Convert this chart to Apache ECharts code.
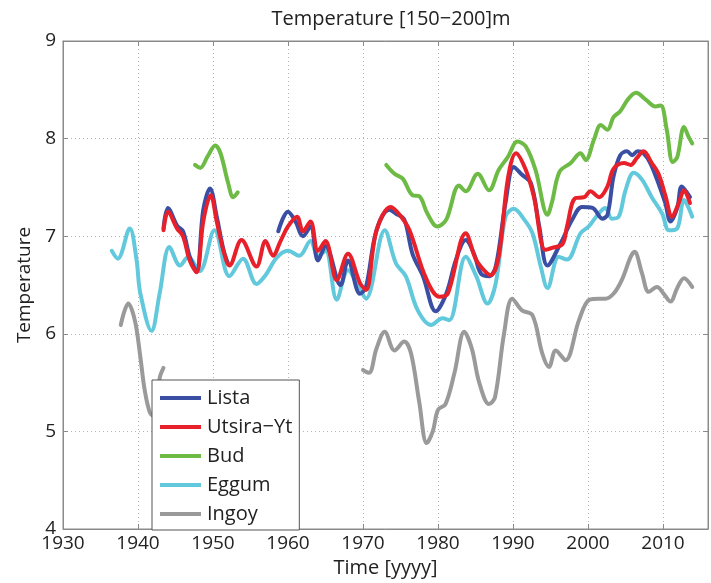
<!DOCTYPE html>
<html>
<head>
<meta charset="utf-8">
<script src="https://cdn.jsdelivr.net/npm/echarts@6/dist/echarts.min.js"></script>
<style>html,body{margin:0;padding:0;background:#fff}#c{width:711px;height:583px}</style>
</head>
<body>
<div id="c"></div>
<script>
// ---- data ----
const listaYears = [1943.4,1944.0,1945.2,1946.0,1946.9,1947.8,1948.7,1949.6,1950.5,1951.4,1952.0,null,1958.7,1960.0,1961.0,1962.0,1963.0,1964.0,1965.0,1967.0,1968.0,1969.6,1970.4,1971.8,1973.5,1974.4,1975.5,1976.6,1978.0,1979.7,1981.1,1982.4,1983.7,1984.8,1985.7,1986.8,1987.7,1989.0,1990.1,1991.2,1992.4,1993.5,1994.6,1996.3,1997.9,1999.2,2000.6,2001.9,2002.6,2003.4,2004.3,2005.2,2005.9,2006.6,2007.4,2008.3,2009.4,2010.3,2011.0,2011.9,2012.5,2013.6];
const listaVals  = [7.08,7.29,7.11,7.05,6.79,6.64,7.27,7.49,7.20,6.86,6.72,null,7.05,7.25,7.15,7.00,7.10,6.75,6.90,6.50,6.75,6.41,6.48,7.06,7.27,7.23,7.17,6.82,6.59,6.23,6.41,6.76,6.96,6.82,6.62,6.59,6.69,7.34,7.71,7.63,7.54,7.10,6.70,6.92,7.17,7.30,7.29,7.18,7.22,7.61,7.83,7.87,7.83,7.87,7.85,7.75,7.54,7.34,7.15,7.29,7.51,7.40];

const utsiraYears = [1943.4,1944.0,1945.2,1946.0,1946.9,1947.8,1948.7,1949.7,1950.5,1951.4,1952.2,1953.8,1955.8,1957.0,1958.0,1959.0,1960.0,1961.2,1962.0,1963.0,1964.0,1965.0,1966.5,1968.0,1969.6,1970.4,1971.8,1973.7,1975.0,1976.2,1978.4,1980.2,1981.3,1983.7,1985.0,1985.9,1987.0,1988.1,1989.3,1990.4,1991.7,1992.8,1994.3,1995.2,1996.6,1997.2,1998.3,1999.5,2000.3,2001.5,2002.6,2003.4,2004.8,2005.7,2006.5,2007.4,2008.5,2009.4,2010.3,2011.2,2012.1,2012.8,2013.6];
const utsiraVals  = [7.06,7.25,7.08,7.00,6.75,6.63,7.15,7.42,7.15,6.85,6.70,6.96,6.69,6.95,6.80,6.95,7.10,7.20,7.05,7.15,6.85,6.95,6.55,6.82,6.52,6.45,7.06,7.30,7.21,7.06,6.57,6.38,6.41,7.03,6.77,6.67,6.60,6.79,7.58,7.85,7.68,7.40,6.86,6.88,6.92,7.10,7.39,7.40,7.46,7.40,7.51,7.69,7.75,7.73,7.80,7.87,7.75,7.64,7.42,7.20,7.34,7.47,7.34];

const budYears = [1947.6,1948.3,1949.3,1950.3,1951.0,1952.0,1952.7,1953.3,null,1973.1,1974.2,1975.3,1976.6,1977.5,1978.6,1979.9,1981.1,1982.8,1983.7,1985.3,1986.8,1988.1,1989.3,1990.6,1991.7,1993.0,1994.6,1995.2,1996.2,1997.7,1999.0,1999.7,2000.8,2001.7,2002.6,2003.4,2004.3,2005.4,2006.4,2007.7,2009.0,2009.7,2010.5,2011.3,2011.9,2012.8,2013.4,2013.9];
const budVals  = [7.73,7.70,7.82,7.93,7.85,7.55,7.40,7.45,null,7.73,7.64,7.59,7.42,7.41,7.23,7.10,7.17,7.52,7.46,7.64,7.47,7.68,7.81,7.97,7.92,7.68,7.22,7.35,7.66,7.75,7.85,7.78,7.99,8.14,8.09,8.22,8.28,8.41,8.47,8.40,8.33,8.34,8.09,7.76,7.81,8.12,8.02,7.95];

const eggumYears = [1936.5,1937.3,1938.9,1939.8,1940.3,1941.8,1942.9,1944.2,1945.6,1946.7,1948.2,1950.2,1952.2,1954.0,1955.8,1957.0,1958.5,1960.0,1961.5,1963.0,1964.0,1965.0,1966.5,1968.0,1969.6,1970.4,1972.9,1974.4,1975.7,1977.3,1979.1,1980.6,1981.5,1983.7,1985.1,1986.6,1987.7,1989.0,1990.1,1991.5,1992.6,1993.7,1994.6,1996.1,1997.2,1999.0,2000.1,2001.4,2002.3,2003.2,2004.1,2005.0,2006.1,2007.2,2008.5,2009.9,2010.8,2011.9,2012.8,2013.9];
const eggumVals  = [6.85,6.77,7.08,6.76,6.42,6.03,6.42,6.89,6.70,6.79,6.64,7.06,6.59,6.77,6.51,6.60,6.78,6.85,6.80,6.95,6.80,6.85,6.35,6.65,6.45,6.36,7.06,6.72,6.59,6.24,6.09,6.16,6.14,6.79,6.59,6.31,6.52,7.20,7.28,7.17,7.03,6.69,6.47,6.79,6.76,7.03,7.10,7.23,7.29,7.18,7.20,7.47,7.65,7.58,7.40,7.23,7.06,7.08,7.37,7.20];

const ingoyYears = [1937.7,1938.7,1939.6,1940.3,1940.9,1941.6,1942.2,1942.9,1943.4,null,1970.0,1970.8,1971.8,1972.9,1974.2,1975.5,1976.4,1977.5,1978.5,1979.3,1980.0,1981.0,1982.2,1983.5,1984.5,1985.5,1986.8,1987.6,1988.8,1989.9,1991.2,1992.6,1993.9,1994.8,1995.7,1997.0,1998.8,2000.2,2001.5,2002.3,2003.4,2004.5,2005.7,2006.2,2007.2,2008.1,2009.2,2010.1,2011.0,2011.9,2012.8,2013.9];
const ingoyVals  = [6.09,6.31,6.13,5.77,5.42,5.19,5.15,5.55,5.65,null,5.63,5.60,5.85,6.02,5.83,5.92,5.80,5.30,4.88,5.00,5.22,5.28,5.60,6.02,5.85,5.50,5.28,5.35,6.00,6.36,6.24,6.19,5.80,5.66,5.83,5.73,6.14,6.35,6.36,6.36,6.41,6.55,6.79,6.84,6.62,6.43,6.48,6.41,6.33,6.47,6.57,6.48];

const seriesNames = ['Lista','Utsira\u2212Yt','Bud','Eggum','Ingoy'];
const seriesColors = ['#3a4fa3','#e8202a','#6dbb45','#62c9dc','#9a9a9a'];
const xTicks = [1930,1940,1950,1960,1970,1980,1990,2000,2010];
const yTicks = [4,5,6,7,8,9];

function pairs(xs, ys){
  return xs.map((x,i)=> x===null ? [null,null] : [x, ys[i]]);
}
const seriesData = {
  'Lista': pairs(listaYears, listaVals),
  'Utsira\u2212Yt': pairs(utsiraYears, utsiraVals),
  'Bud': pairs(budYears, budVals),
  'Eggum': pairs(eggumYears, eggumVals),
  'Ingoy': pairs(ingoyYears, ingoyVals)
};

const FONT = 'Open Sans';
const chart = echarts.init(document.getElementById('c'), null, {renderer:'canvas'});
const gridLine = {show:true, lineStyle:{color:'#b5b5b5', type:[1,3], width:1}};
const drawOrder = ['Eggum','Ingoy','Bud','Lista','Utsira\u2212Yt'];

chart.setOption({
  animation:false,
  backgroundColor:'#fff',
  title:{text:'Temperature [150\u2212200]m', left:386, textAlign:'center', top:4,
    textStyle:{fontFamily:FONT, fontSize:20, fontWeight:'normal', color:'#222'}},
  grid:{left:63, right:2, top:41, bottom:54, show:true, borderColor:'#8a8a8a', borderWidth:1, backgroundColor:'#fff'},
  legend:{
    data: seriesNames, orient:'vertical', left:152, top:380,
    backgroundColor:'#fff', borderColor:'#555', borderWidth:1, borderRadius:0,
    padding:[8,7,6,8], itemGap:9, itemWidth:41, itemHeight:4, icon:'rect',
    textStyle:{fontFamily:FONT, fontSize:20, lineHeight:20, color:'#222', padding:[0,0,0,1]}
  },
  xAxis:[{
    type:'value', min:1930, max:2016, interval:10,
    name:'Time [yyyy]', nameLocation:'middle', nameGap:28,
    nameTextStyle:{fontFamily:FONT, fontSize:20, color:'#222'},
    axisLine:{show:true, lineStyle:{color:'#8a8a8a'}},
    axisTick:{show:true, inside:true, length:5, lineStyle:{color:'#8a8a8a'}},
    axisLabel:{fontFamily:FONT, fontSize:19, color:'#222', margin:5,
      formatter:v => xTicks.indexOf(v) >= 0 ? String(v) : ''},
    splitLine:gridLine
  },{
    type:'value', min:1930, max:2016, interval:10, position:'top',
    axisLine:{show:true, lineStyle:{color:'#8a8a8a'}},
    axisTick:{show:true, inside:true, length:5, lineStyle:{color:'#8a8a8a'}},
    axisLabel:{show:false}, splitLine:{show:false}
  }],
  yAxis:[{
    type:'value', min:4, max:9, interval:1,
    name:'Temperature', nameLocation:'middle', nameGap:26,
    nameTextStyle:{fontFamily:FONT, fontSize:19, color:'#222'},
    axisLine:{show:true, lineStyle:{color:'#8a8a8a'}},
    axisTick:{show:true, inside:true, length:5, lineStyle:{color:'#8a8a8a'}},
    axisLabel:{fontFamily:FONT, fontSize:19, color:'#222', margin:7,
      formatter:v => yTicks.indexOf(v) >= 0 ? String(v) : ''},
    splitLine:gridLine
  },{
    type:'value', min:4, max:9, interval:1, position:'right',
    axisLine:{show:true, lineStyle:{color:'#8a8a8a'}},
    axisTick:{show:true, inside:true, length:5, lineStyle:{color:'#8a8a8a'}},
    axisLabel:{show:false}, splitLine:{show:false}
  }],
  series: drawOrder.map(n => ({
    name:n, type:'line', data:seriesData[n], smooth:0.35, showSymbol:false,
    connectNulls:false, xAxisIndex:0, yAxisIndex:0,
    lineStyle:{width:4, color:seriesColors[seriesNames.indexOf(n)], cap:'round', join:'round'},
    itemStyle:{color:seriesColors[seriesNames.indexOf(n)]},
    z: 2
  }))
});
</script>
</body>
</html>
